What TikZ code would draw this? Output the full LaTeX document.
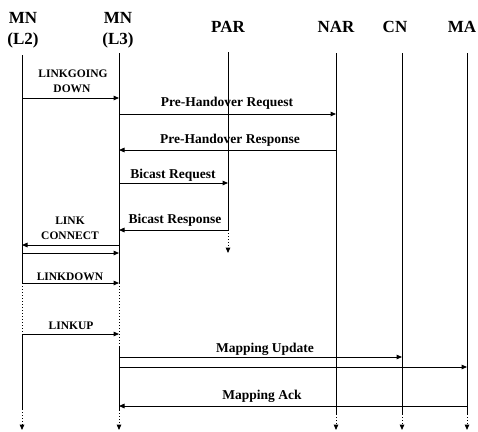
\documentclass[tikz,border=0pt]{standalone}
\usepackage{fontspec}
\setmainfont{Liberation Serif}
\usetikzlibrary{arrows.meta}
\begin{document}
\begin{tikzpicture}[x=1pt,y=-1pt,line width=1pt,
  tip/.tip={Triangle[length=5.5pt,width=4.6pt]},
  hdr/.style={font=\fontsize{17}{20}\selectfont\bfseries,inner sep=0pt,anchor=base},
  lbl/.style={font=\fontsize{13.5}{16}\selectfont\bfseries,inner sep=0pt,anchor=base},
  sml/.style={font=\fontsize{11.5}{14}\selectfont\bfseries,inner sep=0pt,anchor=base},
  msg/.style={-tip},
  tail/.style={dotted,-tip}]
\useasboundingbox (0,0) rectangle (478,431);

% headers
\node[hdr] (hA) at (23,23) {MN};
\node[hdr] (hA2) at (23,44) {(L2)};
\node[hdr] (hB) at (118,23) {MN};
\node[hdr] (hB2) at (118,44) {(L3)};
\node[hdr] (hC) at (228,32) {PAR};
\node[hdr] (hD) at (336,32) {NAR};
\node[hdr] (hE) at (395,32) {CN};
\node[hdr] (hF) at (462,32) {MA};

% lifeline tops
\coordinate (l2) at (22,55);
\coordinate (l3) at (119,53);
\coordinate (par) at (228,52);
\coordinate (nar) at (336,53);
\coordinate (cn) at (402,53);
\coordinate (ma) at (467,53);

% lifelines
\coordinate (l2a) at (22,283); \coordinate (l2b) at (22,334);
\coordinate (l2c) at (22,409); \coordinate (l2e) at (22,430);
\draw (l2) -- (l2a); \draw[dotted] (l2a) -- (l2b); \draw (l2b) -- (l2c); \draw[tail] (l2c) -- (l2e);
\coordinate (l3a) at (119,283); \coordinate (l3b) at (119,346);
\coordinate (l3c) at (119,410); \coordinate (l3e) at (119,430);
\draw (l3) -- (l3a); \draw[dotted] (l3a) -- (l3b); \draw (l3b) -- (l3c); \draw[tail] (l3c) -- (l3e);
\coordinate (para) at (228,230); \coordinate (pare) at (228,253);
\draw (par) -- (para); \draw[tail] (para) -- (pare);
\coordinate (nara) at (336,414); \coordinate (nare) at (336,430);
\draw (nar) -- (nara); \draw[tail] (nara) -- (nare);
\coordinate (cna) at (402,414); \coordinate (cne) at (402,430);
\draw (cn) -- (cna); \draw[tail] (cna) -- (cne);
\coordinate (maa) at (467,414); \coordinate (mae) at (467,430);
\draw (ma) -- (maa); \draw[tail] (maa) -- (mae);

% messages
\draw[msg] (l2 |- 0,98) -- (l3 |- 0,98);
\node[sml] (t1) at (73,77) {LINKGOING};
\node[sml] (t1b) at (72,92) {DOWN};

\draw[msg] (l3 |- 0,114) -- (nar |- 0,114);
\node[lbl] (t2) at (227,106) {Pre-Handover Request};

\draw[msg] (nar |- 0,150) -- (l3 |- 0,150);
\node[lbl] (t3) at (230,143) {Pre-Handover Response};

\draw[msg] (l3 |- 0,183) -- (par |- 0,183);
\node[lbl] (t4) at (173,178) {Bicast Request};

\draw[msg] (par |- 0,230) -- (l3 |- 0,230);
\node[lbl] (t5) at (175,223) {Bicast Response};

\draw[msg] (l3 |- 0,245) -- (l2 |- 0,245);
\draw[msg] (l2 |- 0,253) -- (l3 |- 0,253);
\node[sml] (t6) at (70,224) {LINK};
\node[sml] (t6b) at (70,239) {CONNECT};

\draw[msg] (l2 |- 0,283) -- (l3 |- 0,283);
\node[sml] (t7) at (70,280) {LINKDOWN};

\draw[msg] (l2 |- 0,334) -- (l3 |- 0,334);
\node[sml] (t8) at (71,329) {LINKUP};

\draw[msg] (l3 |- 0,357) -- (cn |- 0,357);
\node[lbl] (t9) at (265,352) {Mapping Update};
\draw[msg] (l3 |- 0,367) -- (ma |- 0,367);

\draw[msg] (ma |- 0,406) -- (l3 |- 0,406);
\node[lbl] (t10) at (262,399) {Mapping Ack};
\end{tikzpicture}
\end{document}
